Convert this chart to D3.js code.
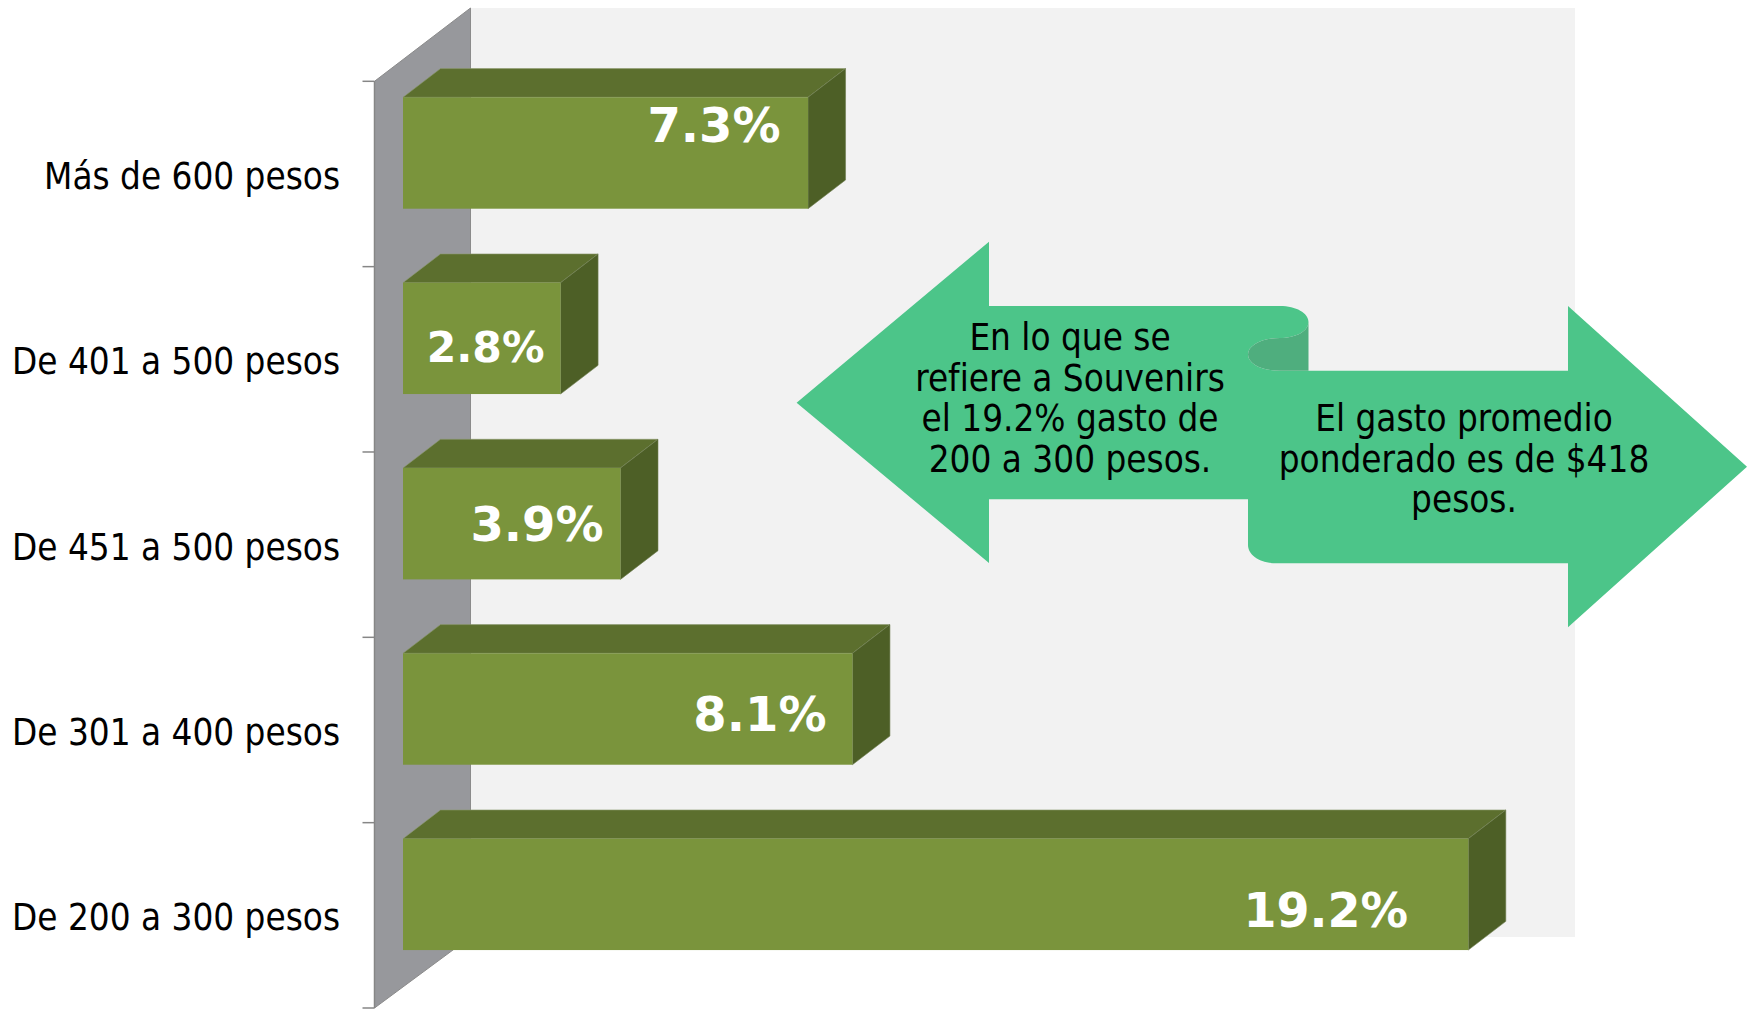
<!DOCTYPE html>
<html lang="es">
<head>
<meta charset="utf-8">
<script src="https://cdnjs.cloudflare.com/ajax/libs/d3/7.8.5/d3.min.js"></script>
<style>
html,body{margin:0;padding:0;background:#fff;overflow:hidden}
svg{display:block}
text{font-family:"DejaVu Sans",sans-serif}
.cond{font-stretch:condensed}
</style>
</head>
<body>
<svg id="c" width="1747" height="1009"></svg>
<script>
const categories = ["Más de 600 pesos","De 401 a 500 pesos","De 451 a 500 pesos","De 301 a 400 pesos","De 200 a 300 pesos"];
const values = [7.3,2.84,3.92,8.1,19.2];
const valueLabels = ["7.3%","2.8%","3.9%","8.1%","19.2%"];
const noteLeft = ["En lo que se","refiere a Souvenirs","el 19.2% gasto de","200 a 300 pesos."];
const noteRight = ["El gasto promedio","ponderado es de $418","pesos."];

// layout
const dx=37.5,dy=28.7;               // 3-D depth of the bars
const wallFrontX=374.5,wallBackX=470.5,plotTop=81.3,plotBottom=1008;
const backTop=8,backBottom=937,backRight=1575;
const barPadTop=16,barH=111.4;
const valueOffset=[94,75,83.5,92.5,142.5];     // label centre, left of bar end
const valueBase=[45,79.3,73,77.2,88.5]; // baseline below bar top
const valueSize=[48,42.5,48,48,47.5];
const textSize=36.5;

const svg=d3.select("#c");
const x=d3.scaleLinear().domain([0,19.2]).range([403,1468.3]);
const y=d3.scaleBand().domain(categories).range([plotTop,plotBottom]);
const pts=a=>a.map(p=>p.join(",")).join(" ");

// back wall
svg.append("rect").attr("x",wallBackX).attr("y",backTop)
  .attr("width",backRight-wallBackX).attr("height",backBottom-backTop).attr("fill","#f2f2f2");
// side wall
svg.append("polygon")
  .attr("points",pts([[wallFrontX,plotTop],[wallBackX,backTop],[wallBackX,backBottom],[wallFrontX,plotBottom]]))
  .attr("fill","#97989c").attr("stroke","#8b8b8b").attr("stroke-width",1);
// axis line and ticks
svg.append("line").attr("x1",wallFrontX).attr("x2",wallFrontX).attr("y1",plotTop).attr("y2",plotBottom)
  .attr("stroke","#868686").attr("stroke-width",1.5);
svg.selectAll("line.tick").data([...categories.map(c=>y(c)),plotBottom]).join("line")
  .attr("class","tick").attr("x1",362.5).attr("x2",wallFrontX).attr("y1",d=>d).attr("y2",d=>d)
  .attr("stroke","#868686").attr("stroke-width",1.5);

// bars
const rows=categories.map((c,i)=>({c,v:values[i],label:valueLabels[i],i}));
const bars=svg.selectAll("g.bar").data(rows).join("g").attr("class","bar");
const barTop=d=>y(d.c)+barPadTop;
bars.append("polygon").attr("fill","#5c6f2e").attr("stroke","#8d9a70").attr("stroke-width",.6)
  .attr("points",d=>pts([[x(0),barTop(d)],[x(0)+dx,barTop(d)-dy],[x(d.v)+dx,barTop(d)-dy],[x(d.v),barTop(d)]]));
bars.append("polygon").attr("fill","#4d5f26").attr("stroke","#6f7d50").attr("stroke-width",.6)
  .attr("points",d=>pts([[x(d.v),barTop(d)],[x(d.v)+dx,barTop(d)-dy],[x(d.v)+dx,barTop(d)+barH-dy],[x(d.v),barTop(d)+barH]]));
bars.append("rect").attr("fill","#7a943c").attr("x",x(0)).attr("y",barTop)
  .attr("width",d=>x(d.v)-x(0)).attr("height",barH);
bars.append("text").attr("text-anchor","middle").attr("fill","#fff").attr("font-weight","700")
  .attr("font-size",d=>valueSize[d.i])
  .attr("x",d=>x(d.v)-valueOffset[d.i]).attr("y",d=>barTop(d)+valueBase[d.i]).text(d=>d.label);

// category labels
svg.selectAll("text.cat").data(categories).join("text").attr("class","cat cond")
  .attr("text-anchor","end").attr("x",340).attr("y",d=>y(d)+y.bandwidth()/2+15)
  .attr("font-size",textSize).attr("fill","#000").text(d=>d);

// ribbon arrows
const main=d3.path();
main.moveTo(796.6,402.7); main.lineTo(989,241.7); main.lineTo(989,306); main.lineTo(1280,306);
main.bezierCurveTo(1296,306,1308.5,313,1308.5,322);
main.bezierCurveTo(1308.5,331,1296,338,1280,338);
main.bezierCurveTo(1262,338,1248,345,1248,354.5);
main.bezierCurveTo(1248,364,1262,370.7,1280,370.7);
main.lineTo(1568,370.7); main.lineTo(1568,306); main.lineTo(1747,466.7); main.lineTo(1568,627.3); main.lineTo(1568,563.3);
main.lineTo(1276,563.3); main.bezierCurveTo(1260,563.3,1248,555,1248,545);
main.lineTo(1248,499.3); main.lineTo(989,499.3); main.lineTo(989,563); main.closePath();
const fold=d3.path();
fold.moveTo(1308.5,322); fold.bezierCurveTo(1308.5,331,1296,338,1280,338);
fold.bezierCurveTo(1262,338,1248,345,1248,354.5); fold.bezierCurveTo(1248,364,1262,370.7,1280,370.7);
fold.lineTo(1308.5,370.7); fold.closePath();
svg.append("path").attr("d",main.toString()).attr("fill","#4cc589");
svg.append("path").attr("d",fold.toString()).attr("fill","#4fae7e");

svg.selectAll("text.nl").data(noteLeft).join("text").attr("class","nl cond")
  .attr("text-anchor","middle").attr("x",1070).attr("y",(d,i)=>350+i*40.6)
  .attr("font-size",textSize).attr("fill","#000").text(d=>d);
svg.selectAll("text.nr").data(noteRight).join("text").attr("class","nr cond")
  .attr("text-anchor","middle").attr("x",1464).attr("y",(d,i)=>431+i*40.6)
  .attr("font-size",textSize).attr("fill","#000").text(d=>d);
</script>
</body>
</html>
